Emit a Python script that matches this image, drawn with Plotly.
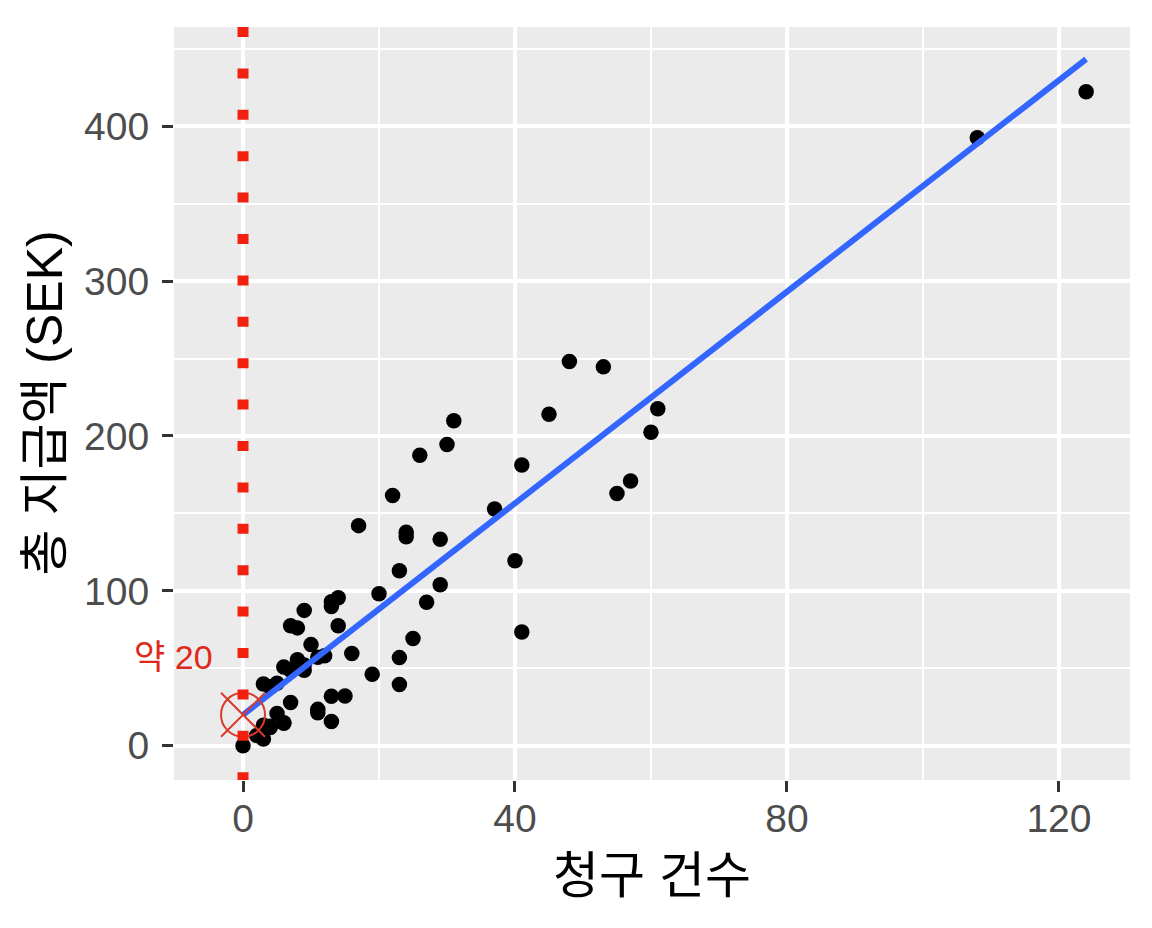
import numpy as np
import plotly.graph_objects as go

# Swedish auto insurance: number of claims vs total payment (thousand SEK)
claims = [108, 19, 13, 124, 40, 57, 23, 14, 45, 10, 5, 48, 11, 23, 7, 2, 24, 6, 3, 23, 6,
          9, 9, 3, 29, 7, 4, 20, 7, 4, 0, 25, 6, 5, 22, 11, 61, 12, 4, 16, 13, 60, 41,
          37, 55, 41, 11, 27, 8, 3, 17, 13, 13, 15, 8, 29, 30, 24, 9, 31, 14, 53, 26]
payments = [392.5, 46.2, 15.7, 422.2, 119.4, 170.9, 56.9, 77.5, 214.0, 65.3, 20.9, 248.1,
            23.5, 39.6, 48.8, 6.6, 134.9, 50.9, 4.4, 113.0, 14.8, 48.7, 52.1, 13.2, 103.9,
            77.5, 11.8, 98.1, 27.9, 38.1, 0.0, 69.2, 14.6, 40.3, 161.5, 57.2, 217.6, 58.1,
            12.6, 59.6, 89.9, 202.4, 181.3, 152.8, 162.8, 73.4, 21.3, 92.6, 76.1, 39.9,
            142.1, 93.0, 31.9, 32.1, 55.6, 133.3, 194.5, 137.9, 87.4, 209.8, 95.5, 244.6,
            187.5]

x_ticks = [0, 40, 80, 120]
x_minor = [20, 60, 100]
y_ticks = [0, 100, 200, 300, 400]
y_minor = [50, 150, 250, 350, 450]

x_title = "청구 건수"
y_title = "총 지급액 (SEK)"

FONT = "Liberation Sans, Noto Sans CJK KR, sans-serif"

# linear fit like geom_smooth(method = "lm")
slope, intercept = np.polyfit(claims, payments, 1)
fit_x = np.array([min(claims), max(claims)])
fit_y = intercept + slope * fit_x

fig = go.Figure()

fig.add_trace(go.Scatter(
    x=claims, y=payments, mode="markers",
    marker=dict(color="black", size=15.5),
    showlegend=False, hoverinfo="x+y",
))

fig.add_trace(go.Scatter(
    x=fit_x, y=fit_y, mode="lines",
    line=dict(color="#3366FF", width=6),
    showlegend=False,
))

# intercept marker
fig.add_trace(go.Scatter(
    x=[0], y=[intercept], mode="markers",
    marker=dict(symbol="circle-open", size=44, color="#D93A2B", line=dict(width=2)),
    showlegend=False,
))
fig.add_trace(go.Scatter(
    x=[0], y=[intercept], mode="markers",
    marker=dict(symbol="x-thin-open", size=44, color="#D93A2B", line=dict(width=2)),
    showlegend=False,
))

# dotted reference line at zero claims
fig.add_shape(
    type="line", xref="x", yref="paper", x0=0, x1=0, y0=1, y1=0,
    line=dict(color="#F2200F", width=11, dash="10px,31.4px"),
    layer="above",
)

fig.add_annotation(
    x=-4.1, y=57, xref="x", yref="y", text="약 %d" % round(intercept),
    showarrow=False, xanchor="right", yanchor="middle",
    font=dict(family=FONT, size=34, color="#E0281A"),
)

# axis titles
fig.add_annotation(
    x=0.5, y=0, xref="paper", yref="paper", yshift=-96, text=x_title,
    showarrow=False, xanchor="center", yanchor="middle",
    font=dict(family=FONT, size=50, color="black"),
)
fig.add_annotation(
    x=0, y=0.5, xref="paper", yref="paper", xshift=-130, text=y_title,
    showarrow=False, xanchor="center", yanchor="middle", textangle=-90,
    font=dict(family=FONT, size=50, color="black"),
)

axis_common = dict(
    showgrid=True, gridcolor="white", gridwidth=3.5,
    zeroline=False, showline=False,
    ticks="outside", ticklen=11, tickwidth=3, tickcolor="#333333",
    tickfont=dict(family=FONT, size=39, color="#4D4D4D"),
)

# page body has an 8px margin, so the figure is shrunk by that much
fig.update_layout(
    width=1144, height=920,
    margin=dict(l=166, r=22, t=19, b=148),
    paper_bgcolor="white", plot_bgcolor="#EBEBEB",
    font=dict(family=FONT),
    xaxis=dict(range=[-10.15, 130.45], tickvals=x_ticks, ticklabelstandoff=-7,
               minor=dict(tickvals=x_minor, showgrid=True, gridcolor="white",
                          gridwidth=2, ticks=""),
               **axis_common),
    yaxis=dict(range=[-22.1, 464], tickvals=y_ticks, ticklabelstandoff=5,
               minor=dict(tickvals=y_minor, showgrid=True, gridcolor="white",
                          gridwidth=2, ticks=""),
               **axis_common),
)

fig.write_html("out.html")
